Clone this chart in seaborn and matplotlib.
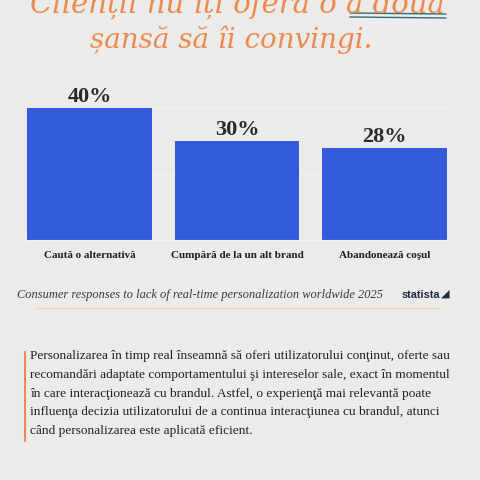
import matplotlib
matplotlib.use("Agg")
import matplotlib.pyplot as plt
import matplotlib.lines as mlines
import pandas as pd
import seaborn as sns

CATEGORIES = ["Caută o alternativă", "Cumpără de la un alt brand", "Abandonează coşul"]
VALUES = [40, 30, 28]
VALUE_LABELS = ["40%", "30%", "28%"]
GRID_TICKS = [20, 40]

TITLE_1 = "Clienții nu îți oferă o a doua"
TITLE_2 = "șansă să îi convingi."
SOURCE = "Consumer responses to lack of real-time personalization worldwide 2025"
BODY = (
    "Personalizarea în timp real înseamnă să oferi utilizatorului conţinut, oferte sau\n"
    "recomandări adaptate comportamentului şi intereselor sale, exact în momentul\n"
    "în care interacţionează cu brandul. Astfel, o experienţă mai relevantă poate\n"
    "influenţa decizia utilizatorului de a continua interacţiunea cu brandul, atunci\n"
    "când personalizarea este aplicată eficient."
)

BG = "#EBEBEA"
BAR = "#355BDD"
INK = "#2B2B2B"
ORANGE = "#EE8A4E"
TEAL = "#2F6F78"

sns.set_theme(style="white")
plt.rcParams["font.family"] = ["Liberation Serif", "DejaVu Serif"]

df = pd.DataFrame({"category": CATEGORIES, "value": VALUES})

fig = plt.figure(figsize=(4.8, 4.8), dpi=100, facecolor=BG)
ax = fig.add_axes([27 / 480, 0.5, 420 / 480, 148.5 / 480])
ax.set_facecolor("none")

sns.barplot(data=df, x="category", y="value", ax=ax, color=BAR, width=0.847,
            saturation=1, edgecolor="none")
ax.set_xlim(-0.4235, 2.4235)
ax.set_ylim(0, 45)
ax.set_yticks(GRID_TICKS)
ax.yaxis.grid(True, color="#F3F3F3", linewidth=0.7)
ax.set_axisbelow(True)
ax.tick_params(axis="y", left=False, labelleft=False)
ax.tick_params(axis="x", bottom=False, pad=2)
for lbl in ax.get_xticklabels():
    lbl.set_fontweight("bold")
    lbl.set_fontsize(8)
    lbl.set_color("#1E1E1E")
ax.set_xlabel("")
ax.set_ylabel("")
for side in ["top", "right", "left"]:
    ax.spines[side].set_visible(False)
ax.spines["bottom"].set_color("#F4F4F4")
ax.spines["bottom"].set_linewidth(0.8)

for i, (v, t) in enumerate(zip(VALUES, VALUE_LABELS)):
    ax.text(i, v + 0.2, t, ha="center", va="bottom", fontsize=16,
            fontweight="bold", color=INK)

# title (script-style stand-in)
fig.text(237 / 480, 1 - 4 / 480, TITLE_1, ha="center", va="center", fontsize=21,
         style="italic", color=ORANGE, family=["DejaVu Serif"])
fig.text(231 / 480, 1 - 40 / 480, TITLE_2, ha="center", va="center", fontsize=20,
         style="italic", color=ORANGE, family=["DejaVu Serif"])
for y in (13, 17):
    fig.add_artist(mlines.Line2D([350 / 480, 446 / 480], [1 - y / 480, 1 - (y + 1) / 480],
                                 color=TEAL, linewidth=1.0))

# source line
fig.text(17 / 480, 1 - 295 / 480, SOURCE, ha="left", va="center", fontsize=8.9,
         style="italic", color="#3A3A3A")
fig.text(402 / 480, 1 - 295 / 480, "statista", ha="left", va="center", fontsize=7.8,
         fontweight="bold", color="#1F2A44", family=["Liberation Sans", "DejaVu Sans"])
fig.text(441 / 480, 1 - 294 / 480, "◢", ha="left", va="center", fontsize=8,
         color="#1F2A44", family=["DejaVu Sans"])
fig.add_artist(mlines.Line2D([37 / 480, 439 / 480], [1 - 308 / 480] * 2,
                             color="#F2C6A8", linewidth=0.8))

# body paragraph
fig.add_artist(mlines.Line2D([25 / 480, 25 / 480], [1 - 352 / 480, 1 - 441 / 480],
                             color=ORANGE, linewidth=1.5))
fig.text(30 / 480, 1 - 350 / 480, BODY, ha="left", va="top", fontsize=9.6,
         color="#222222", linespacing=1.75)

fig.savefig("out.png", dpi=100, facecolor=BG)
